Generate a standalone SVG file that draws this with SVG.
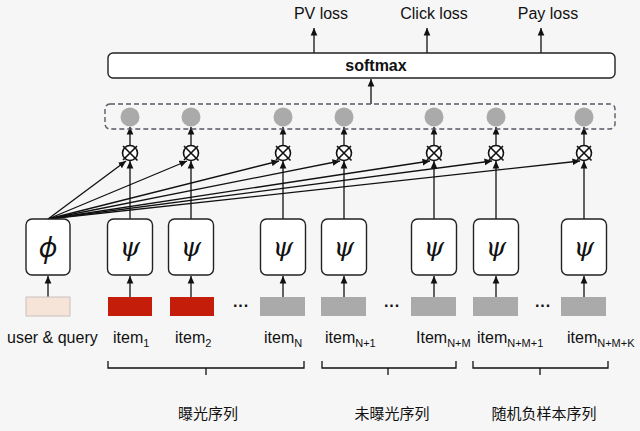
<svg xmlns="http://www.w3.org/2000/svg" width="640" height="431" viewBox="0 0 640 431">
<style>
.t{font-family:"Liberation Sans",Arial,sans-serif;font-size:16px;fill:#111}
.sub{font-size:11px}
.cn{font-family:"Liberation Sans","Noto Sans CJK SC",sans-serif;font-size:15px;fill:#111}
.box{fill:#fff;stroke:#222;stroke-width:1.4}
.sym{font-family:"DejaVu Serif",serif;font-style:italic;font-size:26px;fill:#111}
.phi{font-family:"Noto Sans",sans-serif;font-style:italic;font-size:28px;fill:#111}
.ln{stroke:#111;stroke-width:1.3;fill:none}
.arr{stroke:#111;stroke-width:1.3;fill:none;marker-end:url(#ah)}
.dot{fill:#aaa}
.ot{fill:#fff;stroke:#111;stroke-width:1.6}
.otx{stroke:#111;stroke-width:1.6;fill:none}
.gray{fill:#aaa}
.red{fill:#c41e0a}
</style>
<defs>
<marker id="ah" viewBox="0 0 10 10" refX="10" refY="5" markerWidth="7.5" markerHeight="7.5" orient="auto" markerUnits="userSpaceOnUse"><path d="M0,0.5 L10,5 L0,9.5 z" fill="#111"/></marker>
<g id="otimes-shape"><circle class="ot" r="7.5"/><path class="otx" d="M-7,-7 L7.5,7.5 M7,-7 L-7,7"/></g>
</defs>
<rect width="640" height="431" fill="#f6f6f6"/>

<g id="connectors">
<line class="arr" x1="314" y1="53" x2="314" y2="28"/>
<line class="arr" x1="427" y1="53" x2="427" y2="28"/>
<line class="arr" x1="541" y1="53" x2="541" y2="28"/>
<line class="arr" x1="371" y1="104" x2="371" y2="79"/>
<line class="arr" x1="130" y1="145" x2="130" y2="127"/>
<line class="arr" x1="191" y1="145" x2="191" y2="127"/>
<line class="arr" x1="283" y1="145" x2="283" y2="127"/>
<line class="arr" x1="344" y1="145" x2="344" y2="127"/>
<line class="arr" x1="434" y1="145" x2="434" y2="127"/>
<line class="arr" x1="496" y1="145" x2="496" y2="127"/>
<line class="arr" x1="584" y1="145" x2="584" y2="127"/>
<line class="arr" x1="130" y1="219" x2="130" y2="161"/>
<line class="arr" x1="191" y1="219" x2="191" y2="161"/>
<line class="arr" x1="283" y1="219" x2="283" y2="161"/>
<line class="arr" x1="344" y1="219" x2="344" y2="161"/>
<line class="arr" x1="434" y1="219" x2="434" y2="161"/>
<line class="arr" x1="496" y1="219" x2="496" y2="161"/>
<line class="arr" x1="584" y1="219" x2="584" y2="161"/>
<line class="arr" x1="48" y1="219" x2="126" y2="161"/>
<line class="arr" x1="48" y1="219" x2="187" y2="161"/>
<line class="arr" x1="48" y1="219" x2="279" y2="161"/>
<line class="arr" x1="48" y1="219" x2="340" y2="161"/>
<line class="arr" x1="48" y1="219" x2="430" y2="161"/>
<line class="arr" x1="48" y1="219" x2="492" y2="161"/>
<line class="arr" x1="48" y1="219" x2="580" y2="161"/>
<line class="arr" x1="48" y1="297" x2="48" y2="276"/>
<line class="arr" x1="130" y1="297" x2="130" y2="276"/>
<line class="arr" x1="191" y1="297" x2="191" y2="276"/>
<line class="arr" x1="283" y1="297" x2="283" y2="276"/>
<line class="arr" x1="344" y1="297" x2="344" y2="276"/>
<line class="arr" x1="434" y1="297" x2="434" y2="276"/>
<line class="arr" x1="496" y1="297" x2="496" y2="276"/>
<line class="arr" x1="584" y1="297" x2="584" y2="276"/>
</g>

<g id="losses">
<text class="t" x="321" y="19" text-anchor="middle">PV loss</text>
<text class="t" x="434" y="19" text-anchor="middle">Click loss</text>
<text class="t" x="548" y="19" text-anchor="middle">Pay loss</text>
</g>

<g id="softmax">
<rect class="box" x="108" y="53" width="507" height="25" rx="5"/>
<text class="t" x="376" y="71" text-anchor="middle" font-weight="bold">softmax</text>
</g>

<g id="scores">
<rect x="105" y="104" width="510" height="25" rx="5" fill="none" stroke="#555a66" stroke-width="1.4" stroke-dasharray="5,3"/>
<circle class="dot" cx="130" cy="117" r="9.5"/>
<circle class="dot" cx="191" cy="117" r="9.5"/>
<circle class="dot" cx="283" cy="117" r="9.5"/>
<circle class="dot" cx="344" cy="117" r="9.5"/>
<circle class="dot" cx="434" cy="117" r="9.5"/>
<circle class="dot" cx="496" cy="117" r="9.5"/>
<circle class="dot" cx="584" cy="117" r="9.5"/>
</g>

<g id="products">
<use href="#otimes-shape" x="130" y="153"/>
<use href="#otimes-shape" x="191" y="153"/>
<use href="#otimes-shape" x="283" y="153"/>
<use href="#otimes-shape" x="344" y="153"/>
<use href="#otimes-shape" x="434" y="153"/>
<use href="#otimes-shape" x="496" y="153"/>
<use href="#otimes-shape" x="584" y="153"/>
</g>

<g id="phi">
<rect class="box" x="26" y="219" width="44" height="56" rx="6"/>
<text class="phi" x="48" y="257" text-anchor="middle">ϕ</text>
</g>
<g id="psi1"><rect class="box" x="107.5" y="219" width="45" height="56" rx="6"/><text class="sym" x="130" y="256" text-anchor="middle">ψ</text></g>
<g id="psi2"><rect class="box" x="168.5" y="219" width="45" height="56" rx="6"/><text class="sym" x="191" y="256" text-anchor="middle">ψ</text></g>
<g id="psiN"><rect class="box" x="260.5" y="219" width="45" height="56" rx="6"/><text class="sym" x="283" y="256" text-anchor="middle">ψ</text></g>
<g id="psiN1"><rect class="box" x="321.5" y="219" width="45" height="56" rx="6"/><text class="sym" x="344" y="256" text-anchor="middle">ψ</text></g>
<g id="psiNM"><rect class="box" x="411.5" y="219" width="45" height="56" rx="6"/><text class="sym" x="434" y="256" text-anchor="middle">ψ</text></g>
<g id="psiNM1"><rect class="box" x="473.5" y="219" width="45" height="56" rx="6"/><text class="sym" x="496" y="256" text-anchor="middle">ψ</text></g>
<g id="psiNMK"><rect class="box" x="561.5" y="219" width="45" height="56" rx="6"/><text class="sym" x="584" y="256" text-anchor="middle">ψ</text></g>

<g id="inputs">
<rect x="26" y="297" width="44" height="19" fill="#f6e4d8" stroke="#c9c0ba" stroke-width="1"/>
<rect class="red" x="108" y="297" width="44" height="19"/>
<rect class="red" x="170" y="297" width="44" height="19"/>
<rect class="gray" x="260" y="297" width="45" height="19"/>
<rect class="gray" x="321" y="297" width="45" height="19"/>
<rect class="gray" x="411" y="297" width="45" height="19"/>
<rect class="gray" x="473" y="297" width="45" height="19"/>
<rect class="gray" x="561" y="297" width="45" height="19"/>
<text class="t" x="241" y="311" text-anchor="middle" font-weight="bold">···</text>
<text class="t" x="392" y="311" text-anchor="middle" font-weight="bold">···</text>
<text class="t" x="543" y="311" text-anchor="middle" font-weight="bold">···</text>
</g>

<g id="labels">
<text class="t" x="7" y="343">user &amp; query</text>
<text class="t" x="113" y="343">item<tspan class="sub" dy="4">1</tspan></text>
<text class="t" x="175" y="343">item<tspan class="sub" dy="4">2</tspan></text>
<text class="t" x="264" y="343">item<tspan class="sub" dy="4">N</tspan></text>
<text class="t" x="325" y="343">item<tspan class="sub" dy="4">N+1</tspan></text>
<text class="t" x="416" y="343">Item<tspan class="sub" dy="4">N+M</tspan></text>
<text class="t" x="477" y="343">item<tspan class="sub" dy="4">N+M+1</tspan></text>
<text class="t" x="567" y="343">item<tspan class="sub" dy="4">N+M+K</tspan></text>
</g>

<g id="brackets">
<path class="ln" d="M108,361 V368 H304 V361 M206,368 V375"/>
<path class="ln" d="M322,361 V368 H456 V361 M388,368 V375"/>
<path class="ln" d="M473,361 V368 H608 V361 M540,368 V375"/>
<text class="cn" x="208" y="419" text-anchor="middle">曝光序列</text>
<text class="cn" x="392" y="419" text-anchor="middle">未曝光序列</text>
<text class="cn" x="544" y="419" text-anchor="middle">随机负样本序列</text>
</g>
</svg>
